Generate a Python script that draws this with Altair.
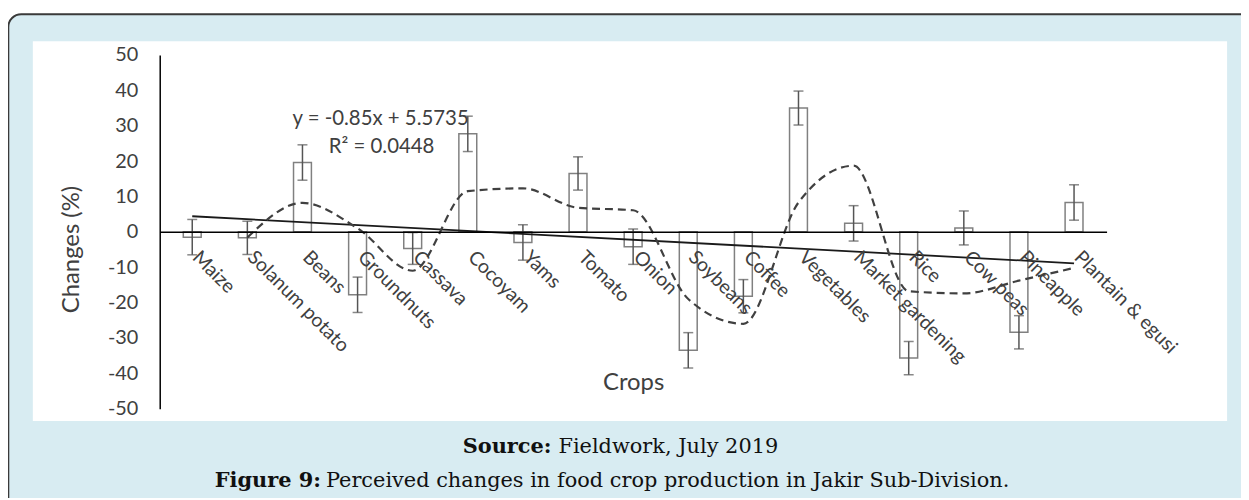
import json
import altair as alt
import pandas as pd

# ---------------- data ----------------
crops = ["Maize", "Solanum potato", "Beans", "Groundnuts", "Cassava", "Cocoyam",
         "Yams", "Tomato", "Onion", "Soybeans", "Coffee", "Vegetables",
         "Market gardening", "Rice", "Cow peas", "Pineapple", "Plantain & egusi"]
changes = [-1.5, -1.7, 19.6, -17.8, -4.7, 27.7, -3.0, 16.5, -4.2, -33.5,
           -18.2, 35.0, 2.4, -35.7, 1.1, -28.4, 8.3]
errors = [5.0, 4.7, 5.0, 5.0, 4.5, 5.0, 5.0, 4.7, 5.0, 5.0,
          4.7, 4.8, 5.0, 4.7, 4.8, 4.7, 5.0]
# 2-period moving average (dashed), starts at the 2nd crop
moving_avg = [-1.6, 8.2, 1.0, -11.0, 11.5, 12.3, 6.8, 6.1, -19.0, -26.0,
              8.3, 18.7, -16.8, -17.4, -13.8, -10.2]
y_ticks = [-50, -40, -30, -20, -10, 0, 10, 20, 30, 40, 50]
eq_line1 = "y = -0.85x + 5.5735"
eq_line2 = "R\u00b2 = 0.0448"
cap1_bold, cap1_text = "Source:", "Fieldwork, July 2019"
cap2_bold, cap2_text = "Figure 9:", "Perceived changes in food crop production in Jakir Sub-Division."

idx = list(range(1, len(crops) + 1))
bars = pd.DataFrame({"idx": idx, "crop": crops, "val": changes, "err": errors})
ma = pd.DataFrame({"idx": idx[1:], "val": moving_avg})
one = pd.DataFrame({"a": [0]})

# ---------------- styling ----------------
FONT = "Lato"
TXT = "#404040"
W, H = 1202, 382

label_expr = json.dumps(crops) + "[datum.value - 1]"

xscale = alt.Scale(domain=[0.5, 17.5], range=[127.7, 1080.7], nice=False, zero=False)
yscale = alt.Scale(domain=[-50, 50], range=[369.7, 13.7], nice=False, zero=False)

xaxis = alt.Axis(orient="bottom", offset=-(H - 191.7), values=idx, labelExpr=label_expr,
                 ticks=False, tickSize=0, grid=False, domainColor="#000000", domainWidth=1.5,
                 labelAngle=45, labelAlign="left", labelBaseline="middle", labelPadding=22,
                 labelOffset=3,
                 labelFont=FONT, labelFontSize=19.5, labelColor=TXT, labelOverlap=False,
                 labelFlush=False, labelBound=False,
                 title="Crops", titleFont=FONT, titleFontSize=24, titleFontWeight="normal",
                 titleColor=TXT, titleY=152, titleBaseline="middle", zindex=1)
yaxis = alt.Axis(orient="left", offset=-127.7, values=y_ticks, labelExpr="'' + datum.value",
                 ticks=False, tickSize=0,
                 grid=False, domainColor="#000000", domainWidth=1.5, labelPadding=22,
                 labelFont=FONT, labelFontSize=20, labelColor=TXT,
                 title="Changes (%)", titleFont=FONT, titleFontSize=24, titleFontWeight="normal",
                 titleColor=TXT, titleX=-88.7, titleY=209, titleAngle=270,
                 titleBaseline="middle", titleAlign="center", zindex=1)


def X(field="idx"):
    return alt.X(f"{field}:Q", scale=xscale, axis=xaxis, title="Crops")


def Y(field="val"):
    return alt.Y(f"{field}:Q", scale=yscale, axis=yaxis, title="Changes (%)")


# ---------------- decorative frame ----------------
frame = alt.Chart(one).mark_rect(fill="#d8ecf2", stroke="#3a3a3a", strokeWidth=2,
                                 cornerRadius=13).encode(
    x=alt.value(-24.7), x2=alt.value(W + 60), y=alt.value(-27.3), y2=alt.value(H + 130))
panel = alt.Chart(one).mark_rect(fill="white").encode(
    x=alt.value(0), x2=alt.value(W), y=alt.value(0), y2=alt.value(H))

# ---------------- data layers ----------------
base = alt.Chart(bars)
bar_layer = base.mark_bar(size=18, fill="white", stroke="#808080", strokeWidth=1.5).encode(
    x=X(), y=Y(), y2=alt.datum(0))
err = base.transform_calculate(lo="datum.val - datum.err", hi="datum.val + datum.err")
err_rule = err.mark_rule(color="#555555", strokeWidth=1.5).encode(
    x=X(), y=Y("lo"), y2=alt.Y2("hi:Q"))
cap_lo = err.mark_tick(orient="horizontal", size=10, thickness=1.5, color="#555555").encode(
    x=X(), y=Y("lo"))
cap_hi = err.mark_tick(orient="horizontal", size=10, thickness=1.5, color="#555555").encode(
    x=X(), y=Y("hi"))
trend = base.transform_regression("idx", "val", extent=[1, 17]).mark_line(
    color="#1a1a1a", strokeWidth=1.8).encode(x=X(), y=Y())
ma_line = alt.Chart(ma).mark_line(color="#404040", strokeWidth=2.2, strokeDash=[8, 5],
                                  interpolate="monotone").encode(x=X(), y=Y())

# ---------------- texts ----------------
def txt(s, x, y, size, font=FONT, weight="normal", align="center", color=TXT, baseline="middle"):
    return alt.Chart(one).mark_text(font=font, fontSize=size, fontWeight=weight, align=align,
                                    baseline=baseline, color=color).encode(
        x=alt.value(x), y=alt.value(y), text=alt.value(s))


eq1 = txt(eq_line1, 350, 78, 20.5)
eq2 = txt(eq_line2, 351, 106, 20.5)
SERIF = "DejaVu Serif"
c1a = txt(cap1_bold, 522, 414, 21, SERIF, "bold", "right", "#111111", "alphabetic")
c1b = txt(cap1_text, 529, 414, 21, SERIF, "normal", "left", "#111111", "alphabetic")
c2a = txt(cap2_bold, 290, 449, 21, SERIF, "bold", "right", "#111111", "alphabetic")
c2b = txt(cap2_text, 295, 449, 21, SERIF, "normal", "left", "#111111", "alphabetic")

chart = alt.layer(frame, panel, bar_layer, err_rule, cap_lo, cap_hi, trend, ma_line,
                  eq1, eq2, c1a, c1b, c2a, c2b).properties(
    width=W, height=H,
    autosize=alt.AutoSizeParams(type="none"),
    padding={"left": 25, "top": 32, "right": 14, "bottom": 76},
    background="white",
).configure_view(stroke="transparent")

chart.save("out.html", embed_options={"renderer": "svg", "actions": False})
